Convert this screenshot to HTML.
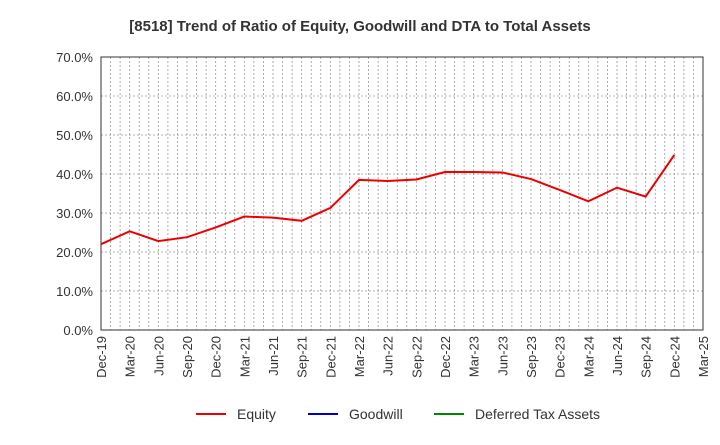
<!DOCTYPE html>
<html><head><meta charset="utf-8"><style>
body{margin:0;background:#fff;font-family:"Liberation Sans",sans-serif;}
svg text{font-family:"Liberation Sans",sans-serif;}
</style></head><body>
<svg width="720" height="440" xmlns="http://www.w3.org/2000/svg">
<text x="360" y="31" text-anchor="middle" font-size="15" font-weight="bold" fill="#333">[8518]  Trend of Ratio of Equity, Goodwill and DTA to Total Assets</text>
<g id="grid"></g>
<g id="yaxis"></g>
<g id="xaxis"></g>
<rect x="101" y="57" width="602" height="273" fill="none" stroke="#333" stroke-width="1"/>
<polyline id="equity" fill="none" stroke="#e00" stroke-width="2"/>
<g>
<line x1="196" y1="414" x2="226" y2="414" stroke="#e00" stroke-width="2"/>
<text x="237" y="419" font-size="14" fill="#333">Equity</text>
<line x1="308" y1="414" x2="338" y2="414" stroke="#00c" stroke-width="2"/>
<text x="349" y="419" font-size="14" fill="#333">Goodwill</text>
<line x1="434" y1="414" x2="464" y2="414" stroke="#080" stroke-width="2"/>
<text x="475" y="419" font-size="14" fill="#333">Deferred Tax Assets</text>
</g>
</svg>
<script>
const categories=["Dec-19","Mar-20","Jun-20","Sep-20","Dec-20","Mar-21","Jun-21","Sep-21","Dec-21","Mar-22","Jun-22","Sep-22","Dec-22","Mar-23","Jun-23","Sep-23","Dec-23","Mar-24","Jun-24","Sep-24","Dec-24","Mar-25"];
const equity=[22.0,25.3,22.8,23.8,26.3,29.1,28.8,28.0,31.3,38.5,38.2,38.6,40.5,40.5,40.4,38.7,35.9,33.0,36.5,34.2,44.9];
const yTicks=[0,10,20,30,40,50,60,70];
const NS="http://www.w3.org/2000/svg";
const L=101,R=703,T=57,B=330,yMax=70;
function xS(i){return L+(R-L)*i/(categories.length-1);}
function yS(v){return B-(B-T)*v/yMax;}
const grid=document.getElementById('grid'),ya=document.getElementById('yaxis'),xa=document.getElementById('xaxis');
function mk(t,a){const e=document.createElementNS(NS,t);for(const k in a)e.setAttribute(k,a[k]);return e;}
const months=(categories.length-1)*3;
for(let m=1;m<months;m++){const x=L+(R-L)*m/months;
const g=mk('line',{x1:x,x2:x,y1:T,y2:B,stroke:'#999','stroke-width':0.8,'stroke-dasharray':'2,2'});


grid.appendChild(g);}
yTicks.forEach(v=>{const y=yS(v);
const g=mk('line',{x1:L,x2:R,y1:y,y2:y,stroke:'#999','stroke-width':0.8,'stroke-dasharray':'2,2'});


grid.appendChild(g);
const t=mk('text',{x:L-8,y:y+5,'text-anchor':'end','font-size':13,fill:'#333'});
t.textContent=v.toFixed(1)+'%';


ya.appendChild(t);});
categories.forEach((c,i)=>{const x=xS(i);
const t=mk('text',{x:0,y:0,'text-anchor':'end','font-size':13,fill:'#333',transform:`translate(${x+5},${B+6}) rotate(-90)`});
t.textContent=c;


xa.appendChild(t);});
document.getElementById('equity').setAttribute('points',equity.map((v,i)=>xS(i)+','+yS(v)).join(' '));
</script>
</body></html>
